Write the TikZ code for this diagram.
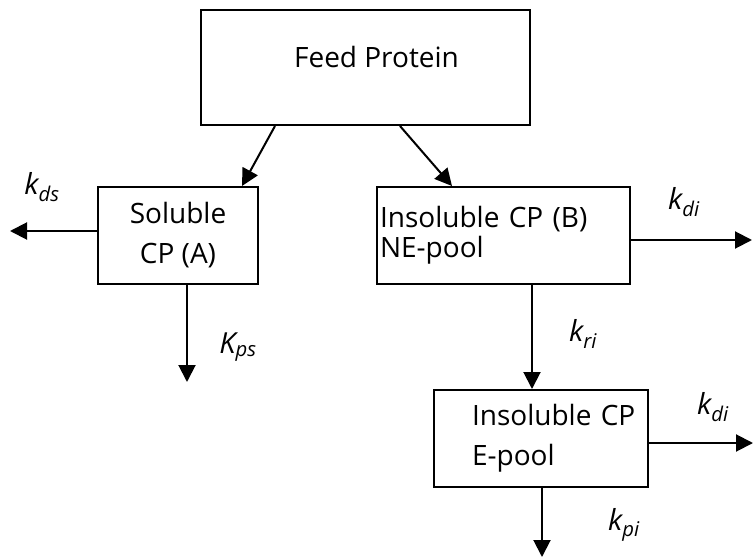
\documentclass[tikz,border=0pt]{standalone}
\usepackage{fontspec}
\setmainfont{Open Sans}
\usetikzlibrary{arrows.meta}
\tikzset{
  pool/.style={draw, line width=2pt, fill=white, inner sep=3pt},
  flow/.style={line width=2pt, -{Triangle[length=17pt,width=17pt]}},
  rate/.style={inner sep=0pt, font=\fontsize{29}{32}\selectfont\itshape}
}
\begin{document}
\begin{tikzpicture}[x=1pt, y=-1pt, font=\fontsize{28}{40}\selectfont]
   \useasboundingbox (0,0) rectangle (753,559);

   % compartments
   \node[pool, minimum width=329pt, minimum height=115pt, text height=20pt, text depth=20pt]
        (feed) at (365.5,67.5) {\hspace*{22pt}Feed Protein};
   \node[pool, minimum width=160pt, minimum height=97pt, align=center]
        (sol) at (178,235.5) {Soluble\\CP (A)};
   \node[pool, minimum width=253pt, minimum height=97pt, text width=247pt, align=left,
        font=\fontsize{28}{30}\selectfont]
        (insB) at (503.5,235.5) {Insoluble CP (B)\\NE-pool};
   \node[pool, minimum width=214pt, minimum height=97pt, text width=210pt, inner xsep=0pt,
        align=left] (insE) at (541,438.5) {\hspace*{36pt}Insoluble CP\\\hspace*{36pt}E-pool};

   % free ends
   \coordinate (ds) at (10,231);
   \coordinate (ps) at (187,382);
   \coordinate (di1) at (752,240);
   \coordinate (di2) at (753,443);
   \coordinate (pi) at (542,557);

   \draw[flow] ([xshift=-90.5pt]feed.south) -- ([xshift=64pt]sol.north);
   \draw[flow] ([xshift=34.5pt]feed.south) -- ([xshift=-51.5pt]insB.north);
   \draw[flow] ([yshift=4.5pt]sol.west) -- (ds);
   \draw[flow] ([xshift=9pt]sol.south) -- (ps);
   \draw[flow] ([yshift=-4.5pt]insB.east) -- (di1);
   \draw[flow] ([xshift=28.5pt]insB.south) -- ([xshift=-9pt]insE.north);
   \draw[flow] ([yshift=-4.5pt]insE.east) -- (di2);
   \draw[flow] ([xshift=1pt]insE.south) -- (pi);

   % rate constants
   \node[rate] (kds) at (42,187) {k\textsubscript{ds}};
   \node[rate] (kps) at (238,347) {K\textsubscript{ps}};
   \node[rate] (kdi1) at (684,202) {k\textsubscript{di}};
   \node[rate] (kri) at (583,334) {k\textsubscript{ri}};
   \node[rate] (kdi2) at (713,407) {k\textsubscript{di}};
   \node[rate] (kpi) at (624,525) {k\textsubscript{pi}};
\end{tikzpicture}
\end{document}
